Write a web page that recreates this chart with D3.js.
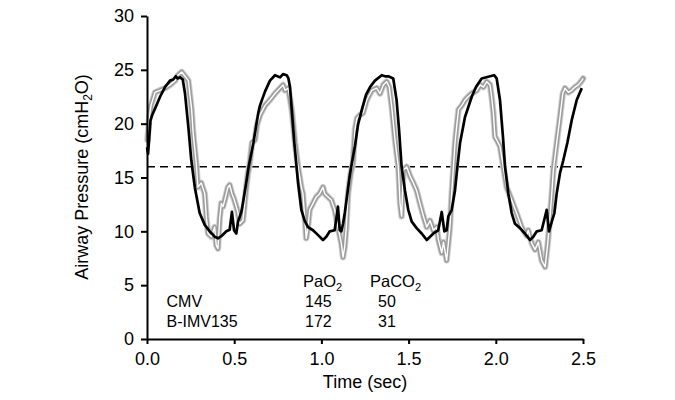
<!DOCTYPE html>
<html><head><meta charset="utf-8">
<script src="https://cdn.jsdelivr.net/npm/d3@7"></script>
<style>
body{margin:0;background:#fff;}
text{font-family:"Liberation Sans",Arial,sans-serif;fill:#000;}
</style></head>
<body><svg id="c" width="675" height="400"></svg>
<script>
// ---- data ----
const xTicks = [0, 0.5, 1.0, 1.5, 2.0, 2.5];
const yTicks = [0, 5, 10, 15, 20, 25, 30];
const thresholdPressure = 16;
const tableRows = ["CMV", "B-IMV135"];
const paO2 = [145, 172];
const paCO2 = [50, 31];

// black trace [time (s), pressure (cmH2O)]
const blackTrace = [[0.000,17.8],[0.006,17.2],[0.012,18.5],[0.020,20.3],[0.030,20.8],[0.046,21.4],[0.075,22.5],[0.103,23.4],[0.132,24.0],[0.150,24.1],[0.165,24.4],[0.175,24.2],[0.190,24.3],[0.205,24.1],[0.218,22.8],[0.237,19.7],[0.254,16.6],[0.274,14.1],[0.302,11.7],[0.331,10.6],[0.360,10.0],[0.388,9.5],[0.407,9.35],[0.426,9.55],[0.455,10.0],[0.474,10.15],[0.487,11.8],[0.499,10.1],[0.512,9.8],[0.522,10.9],[0.541,11.8],[0.550,12.6],[0.569,14.5],[0.583,16.0],[0.610,18.2],[0.638,21.0],[0.648,21.7],[0.677,23.0],[0.705,24.0],[0.734,24.5],[0.763,24.3],[0.780,24.6],[0.801,24.5],[0.811,24.2],[0.820,23.4],[0.830,21.3],[0.845,18.2],[0.857,16.1],[0.866,14.5],[0.885,12.0],[0.904,11.0],[0.923,10.4],[0.952,10.1],[0.981,9.65],[1.009,9.2],[1.028,9.5],[1.048,10.0],[1.076,10.1],[1.095,12.3],[1.105,10.1],[1.114,10.0],[1.124,10.7],[1.134,11.7],[1.149,13.5],[1.162,15.1],[1.171,16.0],[1.193,18.0],[1.210,19.9],[1.232,21.3],[1.256,22.7],[1.279,23.4],[1.307,24.0],[1.346,24.5],[1.365,24.4],[1.384,24.4],[1.412,24.2],[1.431,22.2],[1.445,19.5],[1.460,16.0],[1.479,13.8],[1.498,12.0],[1.518,10.9],[1.546,10.3],[1.575,9.8],[1.604,9.2],[1.623,9.5],[1.642,9.8],[1.670,10.1],[1.690,11.8],[1.705,10.0],[1.718,10.1],[1.728,11.4],[1.747,12.0],[1.766,13.8],[1.780,16.0],[1.795,18.2],[1.823,20.6],[1.862,22.5],[1.886,23.4],[1.919,24.2],[1.967,24.4],[1.990,24.5],[2.005,24.2],[2.024,22.2],[2.041,18.8],[2.053,16.0],[2.072,13.5],[2.091,11.7],[2.110,10.7],[2.139,10.3],[2.167,9.8],[2.196,9.2],[2.215,9.5],[2.235,10.0],[2.263,10.1],[2.292,12.0],[2.305,10.0],[2.321,10.9],[2.336,11.7],[2.349,13.5],[2.368,15.4],[2.387,16.6],[2.410,18.2],[2.435,20.3],[2.464,22.2],[2.493,23.3]];

// gray trace [time (s), pressure (cmH2O)]
const grayTrace = [[0.003,18.5],[0.011,20.3],[0.023,21.7],[0.046,22.9],[0.075,23.1],[0.103,23.3],[0.132,23.6],[0.161,24.0],[0.178,24.5],[0.199,24.8],[0.218,24.4],[0.237,24.0],[0.256,21.3],[0.265,19.1],[0.283,16.2],[0.292,14.1],[0.311,14.5],[0.331,13.5],[0.340,11.4],[0.350,9.8],[0.369,9.5],[0.388,10.4],[0.397,8.7],[0.407,8.4],[0.417,11.2],[0.426,12.6],[0.436,12.3],[0.446,12.9],[0.464,14.1],[0.474,14.3],[0.487,13.5],[0.499,13.0],[0.512,12.3],[0.522,11.7],[0.532,10.7],[0.550,11.0],[0.560,12.6],[0.569,14.1],[0.579,15.4],[0.589,16.3],[0.602,18.2],[0.619,18.5],[0.631,19.9],[0.648,20.8],[0.677,21.7],[0.705,22.2],[0.734,22.8],[0.763,23.3],[0.780,23.6],[0.791,23.1],[0.810,23.3],[0.830,21.3],[0.849,18.2],[0.866,16.0],[0.885,14.1],[0.894,13.5],[0.904,11.4],[0.913,9.35],[0.923,10.4],[0.933,12.0],[0.952,12.6],[0.971,13.2],[0.990,13.5],[1.009,14.1],[1.019,13.5],[1.038,13.2],[1.057,12.9],[1.076,12.0],[1.095,10.4],[1.114,8.9],[1.124,7.6],[1.134,8.6],[1.143,10.4],[1.153,13.5],[1.168,15.4],[1.181,16.3],[1.193,19.5],[1.204,20.5],[1.221,20.8],[1.239,21.0],[1.260,22.2],[1.289,23.1],[1.317,23.3],[1.336,22.8],[1.355,23.6],[1.374,23.9],[1.389,23.4],[1.403,21.6],[1.422,18.5],[1.441,16.0],[1.451,12.6],[1.460,11.4],[1.470,15.7],[1.489,16.0],[1.509,15.1],[1.527,14.5],[1.546,13.8],[1.565,12.6],[1.585,11.4],[1.604,10.4],[1.623,11.0],[1.642,10.1],[1.661,10.4],[1.671,9.2],[1.690,8.0],[1.700,9.0],[1.718,7.3],[1.728,8.9],[1.737,10.4],[1.747,13.5],[1.757,16.0],[1.766,18.2],[1.776,19.8],[1.786,21.3],[1.805,21.7],[1.824,22.2],[1.841,22.5],[1.862,22.8],[1.891,23.1],[1.910,23.6],[1.929,23.4],[1.948,23.9],[1.967,23.6],[1.976,22.5],[1.986,21.0],[1.995,18.8],[2.005,18.5],[2.024,17.9],[2.043,16.0],[2.062,14.1],[2.091,12.9],[2.119,11.7],[2.148,10.4],[2.177,9.6],[2.186,10.1],[2.206,8.9],[2.225,8.3],[2.244,9.0],[2.263,7.3],[2.283,6.7],[2.298,8.9],[2.311,11.4],[2.321,13.5],[2.330,15.7],[2.349,18.2],[2.368,20.6],[2.384,22.8],[2.397,23.3],[2.416,22.9],[2.435,23.1],[2.454,23.4],[2.473,23.6],[2.493,24.0],[2.501,24.2]];

// ---- drawing ----
const svg = d3.select("#c");
svg.append("rect").attr("width",675).attr("height",400).attr("fill","#fff");
const defs = svg.append("defs");
defs.append("filter").attr("id","soft").attr("x","-5%").attr("y","-5%").attr("width","110%").attr("height","110%")
  .append("feGaussianBlur").attr("stdDeviation",0.7);
const x = d3.scaleLinear().domain([0,2.5]).range([147,583]);
const y = d3.scaleLinear().domain([0,30]).range([339,16]);
const line = d3.line().x(d=>x(d[0])).y(d=>y(d[1]));

// dashed threshold
svg.append("line").attr("x1",x(0)).attr("x2",x(2.5)-1).attr("y1",y(thresholdPressure)).attr("y2",y(thresholdPressure))
  .attr("stroke","#000").attr("stroke-width",1.6).attr("stroke-dasharray","8,5");

// gray trace with white core
const halo = svg.append("g").attr("filter","url(#soft)");
halo.append("path").datum(grayTrace).attr("d",line).attr("fill","none")
  .attr("stroke","#cfcfcf").attr("stroke-width",6.5).attr("stroke-linejoin","round").attr("stroke-linecap","round");
halo.append("path").datum(grayTrace).attr("d",line).attr("fill","none")
  .attr("stroke","#9c9c9c").attr("stroke-width",4.5).attr("stroke-linejoin","round").attr("stroke-linecap","round");
svg.append("path").datum(grayTrace).attr("d",line).attr("fill","none")
  .attr("stroke","#fff").attr("stroke-width",1.4).attr("stroke-linejoin","round");

// black trace
svg.append("path").datum(blackTrace).attr("d",line).attr("fill","none")
  .attr("stroke","#000").attr("stroke-width",2.7).attr("stroke-linejoin","round");

// axes
const xAxis = svg.append("g").attr("transform","translate(0,339)")
  .call(d3.axisBottom(x).tickValues(xTicks).tickFormat(d3.format(".1f")).tickSize(5).tickSizeOuter(0).tickPadding(8));
const yAxis = svg.append("g").attr("transform","translate(147,0)")
  .call(d3.axisLeft(y).tickValues(yTicks).tickFormat(d3.format("d")).tickSize(6).tickSizeOuter(0).tickPadding(7));
[xAxis,yAxis].forEach(g=>{
  g.select(".domain").attr("stroke","#000").attr("stroke-width",2);
  g.selectAll(".tick line").attr("stroke","#000").attr("stroke-width",2);
  g.selectAll("text").attr("font-size",18).attr("font-family","Liberation Sans, Arial, sans-serif").attr("fill","#000");
});

// axis titles
svg.append("text").attr("x",(x(0)+x(2.5))/2).attr("y",388).attr("text-anchor","middle")
  .attr("font-size",18).text("Time (sec)");
const yt = svg.append("text").attr("transform","translate(88,177) rotate(-90)").attr("text-anchor","middle").attr("font-size",18);
yt.append("tspan").text("Airway Pressure (cmH");
yt.append("tspan").attr("font-size",12).attr("dy","0.35em").text("2");
yt.append("tspan").attr("dy","-0.23em").text("O)");

// table
function sub(sel, main, s){
  sel.append("tspan").text(main);
  sel.append("tspan").attr("font-size",11).attr("dy",4).text(s);
}
sub(svg.append("text").attr("x",303).attr("y",287).attr("font-size",16.5), "PaO", "2");
sub(svg.append("text").attr("x",370).attr("y",287).attr("font-size",16.5), "PaCO", "2");
tableRows.forEach((r,i)=>{
  const by = 307 + i*20;
  svg.append("text").attr("x",166.5).attr("y",by).attr("font-size",16).text(r);
  svg.append("text").attr("x",305).attr("y",by).attr("font-size",16).text(paO2[i]);
  svg.append("text").attr("x",378).attr("y",by).attr("font-size",16).text(paCO2[i]);
});
</script></body></html>
